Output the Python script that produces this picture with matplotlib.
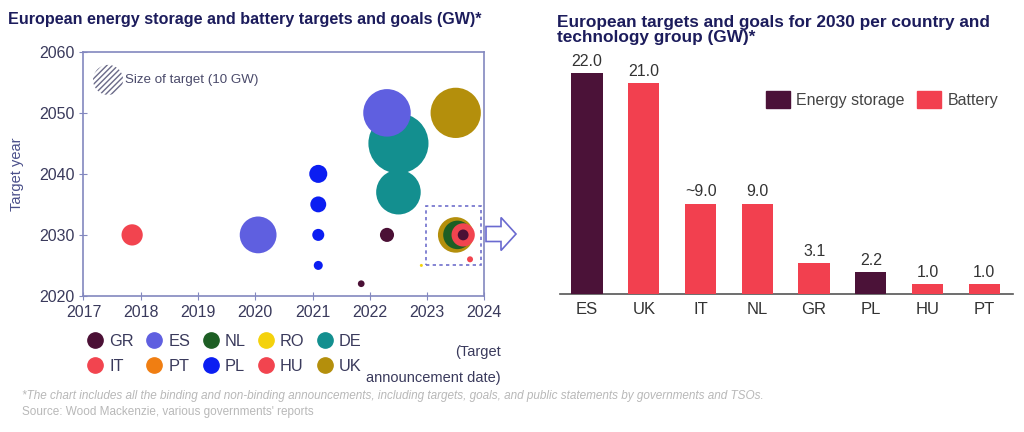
import numpy as np
import matplotlib
matplotlib.use("Agg")
import matplotlib.pyplot as plt
from matplotlib.lines import Line2D
from matplotlib.patches import Rectangle, FancyArrow, Patch

plt.rcParams['font.family'] = ['Liberation Sans', 'DejaVu Sans']

# couleurs des pays
colors = {
    "GR": "#4b1035", "ES": "#5f5fe0", "NL": "#1d5e24", "RO": "#f4d20c", "DE": "#138f8f",
    "IT": "#f2444f", "PT": "#f07e12", "PL": "#0b1ef2", "HU": "#f2444f", "UK": "#b48f0c",
}
legend_order = ["GR", "IT", "ES", "PT", "NL", "PL", "RO", "HU", "DE", "UK"]

# bulles : pays, date d'annonce, année cible, taille (GW)
bub_country = ["DE", "ES", "UK", "DE", "ES", "IT", "PL", "PL", "PL", "PL", "GR", "GR",
               "UK", "NL", "HU", "GR", "HU", "RO"]
bub_date = [2022.5, 2022.3, 2023.5, 2022.5, 2020.05, 2017.85, 2021.1, 2021.1, 2021.1, 2021.1,
            2021.85, 2022.3, 2023.5, 2023.53, 2023.63, 2023.63, 2023.75, 2022.9]
bub_year = [2045, 2050, 2050, 2037, 2030, 2030, 2040, 2035, 2030, 2025,
            2022, 2030, 2030, 2030, 2030, 2030, 2026, 2025]
bub_gw = [40, 25, 28, 22, 15, 5, 3.6, 2.8, 1.6, 0.9,
          0.5, 2.2, 14, 9, 6, 1.3, 0.4, 0.1]
ref_gw = 10  # taille de référence

# barres (objectifs 2030)
bar_cat = ["ES", "UK", "IT", "NL", "GR", "PL", "HU", "PT"]
bar_val = [22.0, 21.0, 9.0, 9.0, 3.1, 2.2, 1.0, 1.0]
bar_lab = ["22.0", "21.0", "~9.0", "9.0", "3.1", "2.2", "1.0", "1.0"]
bar_type = ["Energy storage", "Battery", "Battery", "Battery", "Battery", "Energy storage",
            "Battery", "Battery"]
type_col = {"Energy storage": "#4b1238", "Battery": "#f2404f"}

S = 46.8  # points^2 par GW
navy = "#1c1c5c"
axcol = "#8388bf"
txtcol = "#3a3a5c"

fig = plt.figure(figsize=(10.24, 4.32), dpi=100)

# --- graphique de gauche ---
ax = fig.add_axes([0.0815, 0.315, 0.3915, 0.565])
ax.scatter(bub_date, bub_year, s=np.array(bub_gw) * S,
           c=[colors[c] for c in bub_country], edgecolors="none", zorder=3)
ax.set_xlim(2017, 2024)
ax.set_ylim(2020, 2060)
ax.set_xticks(range(2017, 2025))
ax.set_yticks(range(2020, 2061, 10))
for sp in ax.spines.values():
    sp.set_color(axcol)
    sp.set_linewidth(1.2)
ax.tick_params(direction="inout", length=6, color=axcol, labelsize=11.5, labelcolor=txtcol)
ax.set_ylabel("Target year", fontsize=10.5, color="#4a4f8a", labelpad=11)

# légende de taille
ax.scatter([2017.43], [2055.4], s=ref_gw * S, facecolor="white", edgecolor="#6a6a88",
           linewidth=0, hatch="//////", zorder=3)
ax.text(2017.72, 2055.4, "Size of target (10 GW)", fontsize=9.6, color="#4a4a6a", va="center")

# zone encadrée + flèche
ax.add_patch(Rectangle((2022.98, 2025.1), 0.96, 9.7, fill=False, ls=(0, (2, 2)),
                       ec="#7070cc", lw=1.2, zorder=4))
fig.add_artist(FancyArrow(4.86, 1.98, 0.30, 0, width=0.15, head_width=0.33, head_length=0.15,
                          length_includes_head=True, fc="white", ec="#6a6ad0", lw=1.2,
                          transform=fig.dpi_scale_trans))

handles = [Line2D([], [], marker="o", ls="none", ms=11, mfc=colors[c], mec=colors[c],
                  label=c) for c in legend_order]
fig.legend(handles=handles, ncol=5, loc="upper left", bbox_to_anchor=(0.069, 0.262),
           frameon=False, fontsize=11.8, labelcolor=txtcol, handletextpad=0.25,
           columnspacing=0.65, labelspacing=0.65, handlelength=1.2)
fig.text(0.489, 0.155, "(Target\nannouncement date)", ha="right", va="center",
         multialignment="right", fontsize=10.5, color=txtcol, linespacing=2.1)

fig.text(0.008, 0.955, "European energy storage and battery targets and goals (GW)*",
         fontsize=11.6, fontweight="bold", color=navy, va="center")

# --- graphique de droite ---
ax2 = fig.add_axes([0.547, 0.3194, 0.442, 0.547])
x = np.arange(len(bar_cat))
ax2.bar(x, bar_val, width=0.55, color=[type_col[t] for t in bar_type], zorder=3)
for xi, v, lab in zip(x, bar_val, bar_lab):
    ax2.text(xi, v + 0.4, lab, ha="center", va="bottom", fontsize=11.5, color="#333333")
ax2.set_xlim(-0.475, 7.5)
ax2.set_ylim(0, 23.5)
ax2.set_xticks(x)
ax2.set_xticklabels(bar_cat)
ax2.set_yticks([])
for s in ["top", "right", "left"]:
    ax2.spines[s].set_visible(False)
ax2.spines["bottom"].set_color("#555555")
ax2.spines["bottom"].set_linewidth(1.2)
ax2.tick_params(axis="x", length=0, labelsize=12, labelcolor="#333333", pad=6)
ax2.legend(handles=[Patch(color=type_col[t], label=t) for t in type_col], ncol=2,
           loc="upper right", bbox_to_anchor=(1.0, 0.92), frameon=False, fontsize=11.5,
           labelcolor="#444444", handlelength=1.5, handleheight=1.3, columnspacing=0.8,
           handletextpad=0.4)

fig.text(0.544, 0.93, "European targets and goals for 2030 per country and\ntechnology group (GW)*",
         fontsize=12.4, fontweight="bold", color=navy, va="center", linespacing=1.0)

# notes
fig.text(0.021, 0.083, "*The chart includes all the binding and non-binding announcements, including "
         "targets, goals, and public statements by governments and TSOs.",
         fontsize=8.5, style="italic", color="#b8b8b8", va="center")
fig.text(0.021, 0.046, "Source: Wood Mackenzie, various governments' reports",
         fontsize=8.5, color="#b8b8b8", va="center")

fig.savefig("out.png", dpi=100)
